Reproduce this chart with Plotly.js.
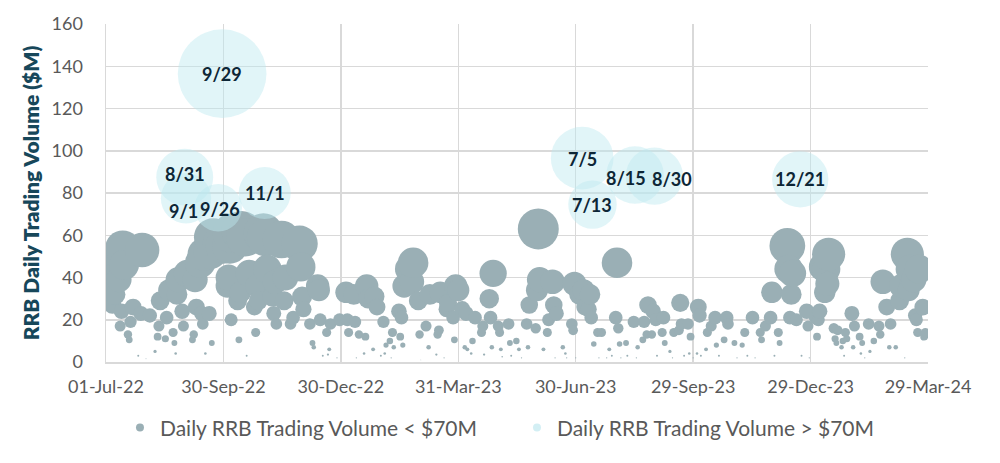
<!DOCTYPE html>
<html>
<head>
<meta charset="utf-8">
<script src="https://cdn.plot.ly/plotly-3.0.1.min.js"></script>
<style>html,body{margin:0;padding:0;background:#fff;}#chart{width:1000px;height:463px;}</style>
</head>
<body>
<div id="chart"></div>
<script>
// Daily RRB trading volume below $70M (date, $M)
const grayDates = [
'2022-07-01','2022-07-05','2022-07-06','2022-07-07','2022-07-08','2022-07-11','2022-07-12','2022-07-13','2022-07-14','2022-07-15',
'2022-07-18','2022-07-19','2022-07-20','2022-07-22','2022-07-26','2022-07-28','2022-07-29','2022-08-01','2022-08-04','2022-08-08',
'2022-08-10','2022-08-11','2022-08-12','2022-08-16','2022-08-17','2022-08-19','2022-08-22','2022-08-23','2022-08-24','2022-08-25',
'2022-08-26','2022-08-29','2022-08-30','2022-09-02','2022-09-06','2022-09-07','2022-09-08','2022-09-09','2022-09-12','2022-09-13',
'2022-09-14','2022-09-15','2022-09-16','2022-09-19','2022-09-20','2022-09-21','2022-09-22','2022-09-28','2022-09-30','2022-10-03',
'2022-10-04','2022-10-05','2022-10-06','2022-10-07','2022-10-11','2022-10-12','2022-10-13','2022-10-14','2022-10-17','2022-10-18',
'2022-10-20','2022-10-24','2022-10-25','2022-10-26','2022-10-27','2022-10-31','2022-11-02','2022-11-03','2022-11-07','2022-11-08',
'2022-11-09','2022-11-10','2022-11-14','2022-11-16','2022-11-17','2022-11-21','2022-11-23','2022-11-28','2022-11-29','2022-11-30',
'2022-12-01','2022-12-06','2022-12-08','2022-12-09','2022-12-12','2022-12-13','2022-12-14','2022-12-16','2022-12-19','2022-12-20',
'2022-12-21','2022-12-22','2022-12-27','2022-12-29',
'2023-01-03','2023-01-04','2023-01-05','2023-01-09','2023-01-10','2023-01-11','2023-01-13','2023-01-17','2023-01-18','2023-01-19',
'2023-01-20','2023-01-24','2023-01-25','2023-01-27','2023-01-30','2023-02-01','2023-02-02','2023-02-03','2023-02-06','2023-02-07',
'2023-02-08','2023-02-09','2023-02-13','2023-02-14','2023-02-15','2023-02-16','2023-02-17','2023-02-21','2023-02-23','2023-02-24',
'2023-02-28','2023-03-01','2023-03-02','2023-03-06','2023-03-08','2023-03-09','2023-03-14','2023-03-15','2023-03-16','2023-03-17',
'2023-03-20','2023-03-22','2023-03-23','2023-03-27','2023-03-28','2023-03-29','2023-03-31','2023-04-03','2023-04-05','2023-04-06',
'2023-04-07','2023-04-10','2023-04-11','2023-04-13','2023-04-18','2023-04-19','2023-04-20','2023-04-24','2023-04-25','2023-04-26',
'2023-04-27','2023-05-01','2023-05-02','2023-05-03','2023-05-04','2023-05-09','2023-05-10','2023-05-11','2023-05-15','2023-05-17',
'2023-05-19','2023-05-23','2023-05-24','2023-05-25','2023-05-30','2023-05-31','2023-06-01','2023-06-02','2023-06-05','2023-06-08',
'2023-06-09','2023-06-12','2023-06-13','2023-06-14','2023-06-15','2023-06-20','2023-06-22','2023-06-23','2023-06-27','2023-06-28',
'2023-06-29','2023-06-30','2023-07-03','2023-07-06','2023-07-07','2023-07-10','2023-07-11','2023-07-12','2023-07-14','2023-07-17',
'2023-07-18','2023-07-20','2023-07-24','2023-07-26','2023-07-28','2023-07-31','2023-08-01','2023-08-02','2023-08-03','2023-08-04',
'2023-08-08','2023-08-09','2023-08-14','2023-08-16','2023-08-17','2023-08-21','2023-08-22','2023-08-24','2023-08-25','2023-08-28',
'2023-08-29','2023-08-31','2023-09-01','2023-09-05','2023-09-06','2023-09-07','2023-09-11','2023-09-13','2023-09-14','2023-09-18',
'2023-09-19','2023-09-20','2023-09-22','2023-09-25','2023-09-26','2023-09-27','2023-09-29','2023-10-02','2023-10-03','2023-10-04',
'2023-10-05','2023-10-09','2023-10-10','2023-10-13','2023-10-16','2023-10-17','2023-10-19','2023-10-23','2023-10-25','2023-10-26',
'2023-10-31','2023-11-02','2023-11-06','2023-11-08','2023-11-10','2023-11-14','2023-11-16','2023-11-20','2023-11-21','2023-11-24',
'2023-11-28','2023-11-29','2023-12-01','2023-12-04','2023-12-05','2023-12-11','2023-12-12','2023-12-13','2023-12-14','2023-12-15',
'2023-12-18','2023-12-22','2023-12-26','2023-12-27','2023-12-28',
'2024-01-02','2024-01-03','2024-01-04','2024-01-05','2024-01-08','2024-01-09','2024-01-10','2024-01-11','2024-01-12','2024-01-16',
'2024-01-17','2024-01-18','2024-01-19','2024-01-22','2024-01-23','2024-01-24','2024-01-25','2024-01-26','2024-01-30','2024-01-31',
'2024-02-01','2024-02-05','2024-02-06','2024-02-07','2024-02-09','2024-02-12','2024-02-13','2024-02-16','2024-02-20','2024-02-21',
'2024-02-23','2024-02-26','2024-02-28','2024-02-29','2024-03-04','2024-03-07','2024-03-08','2024-03-11','2024-03-13','2024-03-14',
'2024-03-15','2024-03-18','2024-03-19','2024-03-20','2024-03-21','2024-03-22','2024-03-25','2024-03-26','2024-03-27'
];
const grayValues = [
45,40,27,37,32,39,17,24,54,46,
13,10.5,19,26,3,23,53,1.5,22,5,
12,17,29,11,21,34,14,9,4,32,
39,24,17,42,10.5,13,39,26,47,23,
18,51,4,23,52,9,59,56,55,36,
40,55,20,61,29,10.5,33,62,59,3,
42,26,14,36,29,61,59,44,31,23,
38,18,58,29,40,18,21,56,45,31,
25,18,9,7,36,34,20,3,14,3.5,
6,18,2,20,
33,20,14,32,19,2,13,4,12,36,
30,6,31,26,3,19,4,8,10,2,
14,7,24,12,21,8,36,44,38,47,
29,13,1,17,7,32,3.5,13,15,33,
2,25,28,21,10.5,36,34,25,7,23,
6,4,10,21,14,17,3.5,30,21,7,
42,17,14,6,2.5,18,9,3,10,6,
2,18,7,27,16,34,63,39,6,14,
20,38,27,2,23,7,4,2,18,15,
37,2,32,34,26,25,32,21,8.5,14,
2,14,2,6,3,21,47,16,8.5,2,
9,3,19,2,7,10.5,19,13,27,13,
24,20,3,14,21,9,5,2,14,15,
28,18,3,18,4,12,2,4,26,22,
3,6,14,17,21,8,3,10.5,21,18,
9,2,8,14,3,21,2,14,10.5,17,
21,33,3,14,9,55,44,21,32,42,
20,3,24,17,2,
21,12,20,24,45,33,44,37,51,16,
11,9,15,7,10,3,14,11,23,7,
17,12,4,9,2,18,5,10,17,13,
38,26,7,18,7,29,36,2,51,34,
44,39,22,20,14,44,26,12,14
];
// Days with volume above $70M
const bigDates  = ['2022-08-31','2022-09-01','2022-09-26','2022-09-29','2022-11-01','2023-07-05','2023-07-13','2023-08-15','2023-08-30','2023-12-21'];
const bigValues = [87.5, 77.5, 73, 136.5, 80, 96.5, 74.5, 88.5, 88, 86.5];
const bigLabels = ['8/31','9/1','9/26','9/29','11/1','7/5','7/13','8/15','8/30','12/21'];
// Axis ticks
const tickDates  = ['2022-07-01','2022-09-30','2022-12-30','2023-03-31','2023-06-30','2023-09-29','2023-12-29','2024-03-29'];
const tickLabels = ['01-Jul-22','30-Sep-22','30-Dec-22','31-Mar-23','30-Jun-23','29-Sep-23','29-Dec-23','29-Mar-24'];
const seriesNames = ['Daily RRB Trading Volume < $70M','Daily RRB Trading Volume > $70M'];

// style-only settings
const labelShiftX = [0,-3,2,0,0,0,0,-9,18,0];
const labelShiftY = [3,-13,-1,0,0,-1,0,-3,-3,0];
const SIZE_K = 0.65;
const GRAY = '#9aafb5';
const LIGHT = 'rgba(190,232,240,0.65)';
const FONT = 'Lato, "Open Sans", sans-serif';

const traces = [
  {type:'scatter', mode:'markers', x:grayDates, y:grayValues, showlegend:false, hoverinfo:'skip', cliponaxis:true,
   marker:{size:grayValues.map(v=>v*SIZE_K), sizemode:'diameter', color:GRAY, line:{width:0}, opacity:1}},
  {type:'scatter', mode:'markers', x:bigDates, y:bigValues, showlegend:false, hoverinfo:'skip', cliponaxis:true,
   marker:{size:bigValues.map(v=>v*SIZE_K), sizemode:'diameter', color:LIGHT, line:{width:0}}},
  {type:'scatter', mode:'markers', x:[null], y:[null], name:seriesNames[0], marker:{size:8, color:GRAY}},
  {type:'scatter', mode:'markers', x:[null], y:[null], name:seriesNames[1], marker:{size:8, color:'#d3eff4'}}
];

const annotations = bigDates.map((d,i)=>({
  x:d, y:bigValues[i], xref:'x', yref:'y', text:bigLabels[i], showarrow:false,
  xshift:labelShiftX[i], yshift:labelShiftY[i],
  font:{family:FONT, size:18, color:'#0d2636', weight:700}
}));

const layout = {
  width:1000, height:463,
  margin:{l:106, r:72, t:24, b:101, pad:0},
  paper_bgcolor:'#ffffff', plot_bgcolor:'#ffffff',
  font:{family:FONT},
  showlegend:true,
  xaxis:{type:'date', range:['2022-07-01','2024-03-29'], tickmode:'array', tickvals:tickDates, ticktext:tickLabels,
    showgrid:true, gridcolor:'#d9d9d9', gridwidth:1.5, showline:true, linecolor:'#d9d9d9', linewidth:1.5,
    zeroline:false, ticks:'', ticklabelstandoff:8, tickfont:{family:FONT, size:18, color:'#595959'}, fixedrange:true},
  yaxis:{range:[0,160], tickmode:'linear', tick0:0, dtick:20,
    showgrid:true, gridcolor:'#d9d9d9', gridwidth:1.5, showline:true, linecolor:'#d9d9d9', linewidth:1.5,
    zeroline:false, ticks:'', ticklabelstandoff:18, tickfont:{family:FONT, size:18, color:'#595959'},
    title:{text:'RRB Daily Trading Volume ($M)', standoff:6, font:{family:FONT, size:21, color:'#17475a', weight:800}}, fixedrange:true},
  legend:{orientation:'h', x:0.017, xanchor:'left', y:-0.195, yanchor:'middle',
    entrywidth:352, entrywidthmode:'pixels',
    font:{family:FONT, size:21, color:'#595959'}, bgcolor:'rgba(0,0,0,0)'},
  annotations:annotations
};

Plotly.newPlot('chart', traces, layout, {staticPlot:true, displayModeBar:false});
</script>
</body>
</html>
